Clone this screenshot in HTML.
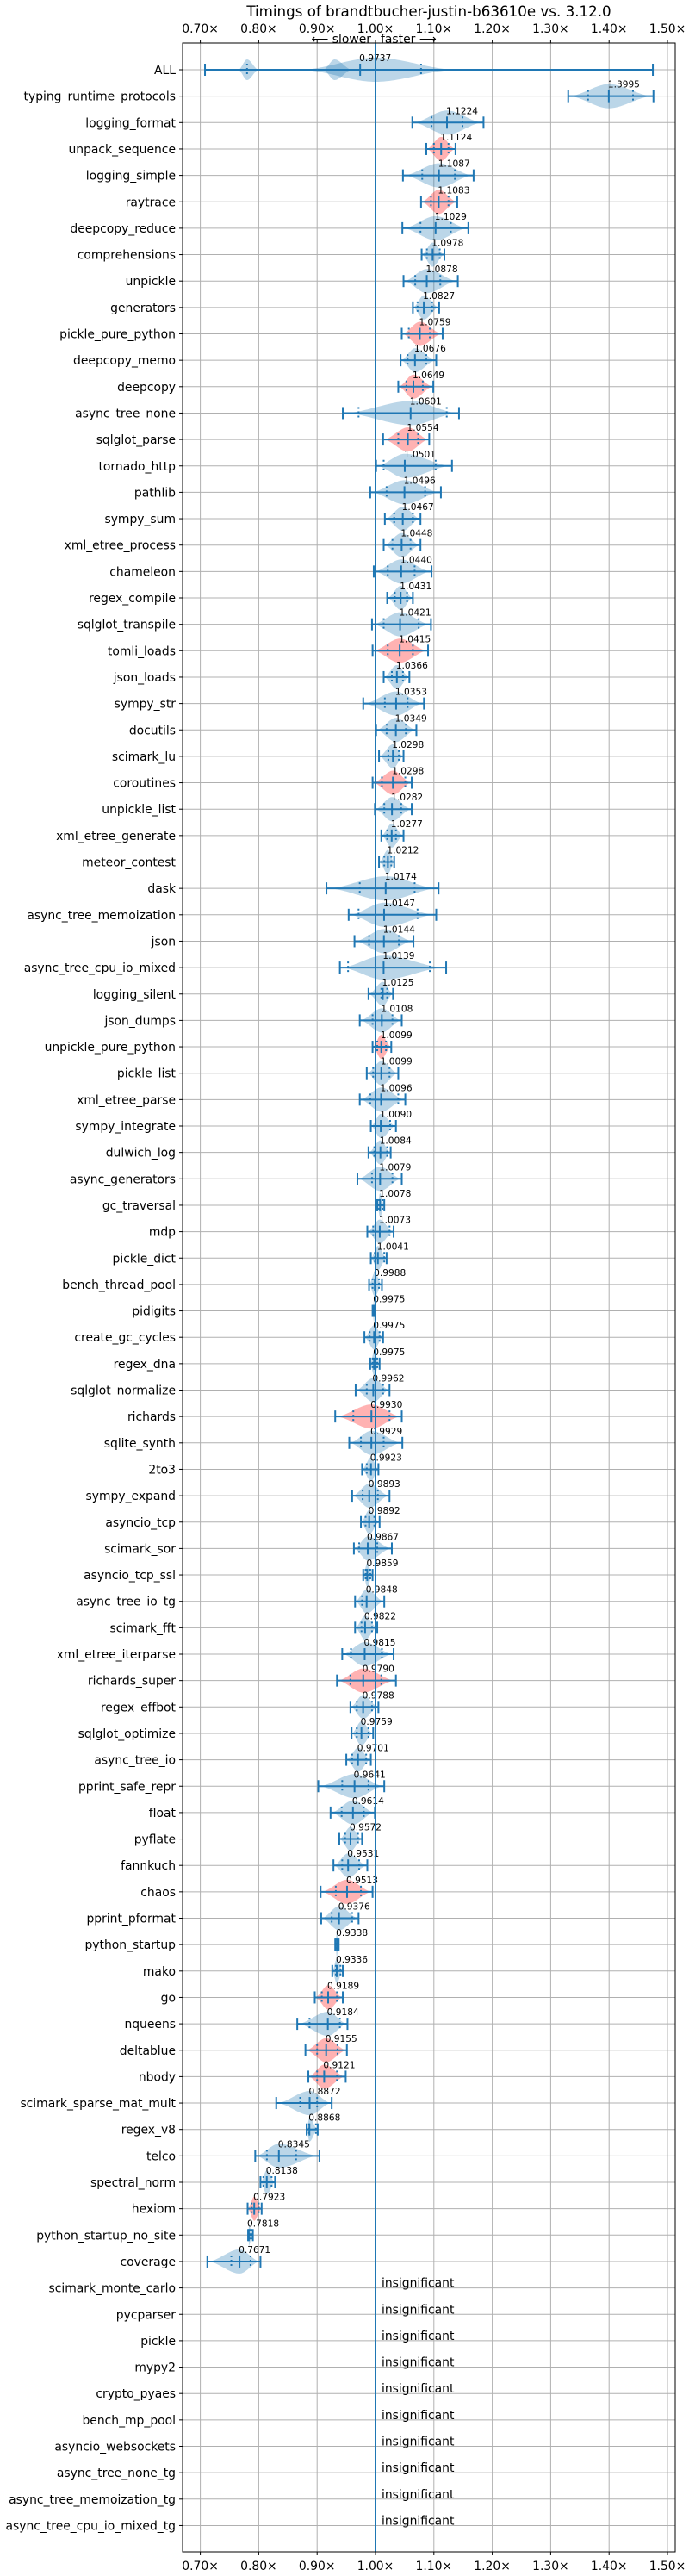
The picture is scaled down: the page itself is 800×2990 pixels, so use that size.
<!DOCTYPE html>
<html><head><meta charset="utf-8"><title>Timings</title>
<style>
html,body{margin:0;padding:0;background:#fff;}
svg{display:block;font-family:"DejaVu Sans","Liberation Sans",sans-serif;}
</style></head>
<body>
<svg id="chart" width="800" height="2990" viewBox="0 0 800 2990" xmlns="http://www.w3.org/2000/svg">
<text x="498" y="19" font-size="16.7" text-anchor="middle">Timings of brandtbucher-justin-b63610e vs. 3.12.0</text>
<text x="431" y="50" font-size="13.9" text-anchor="end">⟵ slower</text>
<text x="442" y="50" font-size="13.9">faster ⟶</text>
<g id="grid"></g>
<g id="marks"></g>
<g id="axes"></g>
</svg>
<script>
const names = ["ALL","typing_runtime_protocols","logging_format","unpack_sequence","logging_simple","raytrace","deepcopy_reduce","comprehensions","unpickle","generators","pickle_pure_python","deepcopy_memo","deepcopy","async_tree_none","sqlglot_parse","tornado_http","pathlib","sympy_sum","xml_etree_process","chameleon","regex_compile","sqlglot_transpile","tomli_loads","json_loads","sympy_str","docutils","scimark_lu","coroutines","unpickle_list","xml_etree_generate","meteor_contest","dask","async_tree_memoization","json","async_tree_cpu_io_mixed","logging_silent","json_dumps","unpickle_pure_python","pickle_list","xml_etree_parse","sympy_integrate","dulwich_log","async_generators","gc_traversal","mdp","pickle_dict","bench_thread_pool","pidigits","create_gc_cycles","regex_dna","sqlglot_normalize","richards","sqlite_synth","2to3","sympy_expand","asyncio_tcp","scimark_sor","asyncio_tcp_ssl","async_tree_io_tg","scimark_fft","xml_etree_iterparse","richards_super","regex_effbot","sqlglot_optimize","async_tree_io","pprint_safe_repr","float","pyflate","fannkuch","chaos","pprint_pformat","python_startup","mako","go","nqueens","deltablue","nbody","scimark_sparse_mat_mult","regex_v8","telco","spectral_norm","hexiom","python_startup_no_site","coverage","scimark_monte_carlo","pycparser","pickle","mypy2","crypto_pyaes","bench_mp_pool","asyncio_websockets","async_tree_none_tg","async_tree_memoization_tg","async_tree_cpu_io_mixed_tg"];
const centers = [0.9737,1.3995,1.1224,1.1124,1.1087,1.1083,1.1029,1.0978,1.0878,1.0827,1.0759,1.0676,1.0649,1.0601,1.0554,1.0501,1.0496,1.0467,1.0448,1.0440,1.0431,1.0421,1.0415,1.0366,1.0353,1.0349,1.0298,1.0298,1.0282,1.0277,1.0212,1.0174,1.0147,1.0144,1.0139,1.0125,1.0108,1.0099,1.0099,1.0096,1.0090,1.0084,1.0079,1.0078,1.0073,1.0041,0.9988,0.9975,0.9975,0.9975,0.9962,0.9930,0.9929,0.9923,0.9893,0.9892,0.9867,0.9859,0.9848,0.9822,0.9815,0.9790,0.9788,0.9759,0.9701,0.9641,0.9614,0.9572,0.9531,0.9513,0.9376,0.9338,0.9336,0.9189,0.9184,0.9155,0.9121,0.8872,0.8868,0.8345,0.8138,0.7923,0.7818,0.7671,null,null,null,null,null,null,null,null,null,null];
const mins = [0.708,1.330,1.063,1.087,1.047,1.078,1.046,1.079,1.048,1.064,1.045,1.043,1.039,0.944,1.013,1.001,0.991,1.016,1.014,0.997,1.020,0.994,0.995,1.014,0.979,1.001,1.006,0.995,0.999,1.010,1.006,0.916,0.954,0.964,0.939,0.988,0.973,0.995,0.985,0.973,0.992,0.988,0.969,1.003,0.986,0.992,0.989,0.995,0.981,0.991,0.966,0.931,0.955,0.977,0.960,0.975,0.963,0.979,0.965,0.965,0.943,0.934,0.957,0.959,0.950,0.902,0.923,0.938,0.928,0.906,0.907,0.931,0.926,0.896,0.866,0.880,0.885,0.830,0.882,0.794,0.803,0.781,0.783,0.712];
const maxs = [1.475,1.476,1.185,1.137,1.168,1.140,1.159,1.118,1.141,1.109,1.115,1.104,1.099,1.143,1.092,1.131,1.112,1.077,1.077,1.096,1.064,1.095,1.090,1.058,1.083,1.070,1.048,1.062,1.062,1.048,1.032,1.108,1.104,1.065,1.121,1.030,1.045,1.027,1.039,1.051,1.035,1.026,1.045,1.015,1.031,1.019,1.011,0.999,1.013,1.007,1.024,1.045,1.046,1.005,1.024,1.007,1.028,0.995,1.015,1.003,1.031,1.035,1.005,0.996,0.992,1.015,0.999,0.977,0.986,0.995,0.971,0.937,0.944,0.944,0.952,0.951,0.949,0.925,0.901,0.904,0.828,0.805,0.790,0.803];
const q1s = [0.780,1.364,1.096,1.100,1.080,1.095,1.077,1.088,1.068,1.072,1.057,1.055,1.053,0.971,1.039,1.014,1.019,1.032,1.029,1.021,1.033,1.014,1.021,1.028,1.016,1.019,1.022,1.011,1.015,1.020,1.015,0.973,0.971,0.989,0.953,1.010,0.995,1.003,0.996,0.991,1.000,0.998,0.994,1.006,0.996,0.999,0.995,0.996,0.990,0.995,0.985,0.962,0.975,0.985,0.978,0.983,0.972,0.983,0.977,0.976,0.958,0.957,0.968,0.968,0.960,0.943,0.942,0.948,0.943,0.932,0.925,0.932,0.932,0.908,0.887,0.900,0.900,0.871,0.886,0.814,0.808,0.788,0.785,0.753];
const q3s = [1.078,1.441,1.149,1.125,1.136,1.125,1.129,1.110,1.111,1.097,1.093,1.087,1.081,1.122,1.073,1.103,1.085,1.064,1.060,1.067,1.054,1.074,1.064,1.047,1.055,1.052,1.040,1.051,1.044,1.035,1.027,1.067,1.072,1.040,1.093,1.020,1.029,1.018,1.024,1.039,1.025,1.020,1.029,1.012,1.024,1.015,1.006,0.998,1.007,1.003,1.013,1.024,1.014,1.000,1.004,0.998,1.003,0.991,1.000,0.994,1.011,1.010,0.994,0.988,0.984,0.988,0.980,0.970,0.972,0.975,0.960,0.936,0.940,0.934,0.939,0.935,0.934,0.900,0.898,0.864,0.822,0.800,0.788,0.786];
const slowerRows = [3,5,10,12,14,22,27,37,51,61,69,73,75,76,81];
const xTicks = [0.70,0.80,0.90,1.00,1.10,1.20,1.30,1.40,1.50];
const xTickLabels = ["0.70×","0.80×","0.90×","1.00×","1.10×","1.20×","1.30×","1.40×","1.50×"];

const NS = "http://www.w3.org/2000/svg";
const AX_L = 212, AX_R = 784, AX_T = 50, AX_B = 2962;
function x(v){ return 436 + (v - 1) * 678; }
function y(i){ return 81 + i * 30.65; }
function mk(tag, attrs, parent){
  const el = document.createElementNS(NS, tag);
  for (const k in attrs) el.setAttribute(k, attrs[k]);
  parent.appendChild(el);
  return el;
}
const grid = document.getElementById('grid');
const marks = document.getElementById('marks');
const axes = document.getElementById('axes');

// vertical grid + tick labels
xTicks.forEach((t, k) => {
  const gl = mk('line', {x1:x(t), x2:x(t), y1:AX_T, y2:AX_B, stroke:'#b0b0b0', 'stroke-width':1}, grid);
  
  
  [[AX_T, AX_T-4, 38], [AX_B, AX_B+4, 2983]].forEach(p => {
    const tk = mk('line', {x1:x(t), x2:x(t), y1:p[0], y2:p[1], stroke:'#000', 'stroke-width':1}, axes);
    
    
    const tl = mk('text', {x:x(t), y:p[2], 'font-size':13.9, 'text-anchor':'middle'}, axes);
    tl.textContent = xTickLabels[k];
    
    
  });
});
// rows
names.forEach((n, i) => {
  const yy = y(i);
  const hl = mk('line', {x1:AX_L, x2:AX_R, y1:yy, y2:yy, stroke:'#b0b0b0', 'stroke-width':1}, grid);
  
  
  const tk = mk('line', {x1:AX_L-4, x2:AX_L, y1:yy, y2:yy, stroke:'#000', 'stroke-width':1}, axes);
  
  
  const lb = mk('text', {x:AX_L-8, y:yy+5, 'font-size':13.9, 'text-anchor':'end'}, axes);
  lb.textContent = n;
  
  
});

function violinPath(a, m, b, yy, H){
  const pts = [];
  const N = 30;
  const sh = u => { u = Math.max(0, Math.min(1, u)); return 3*u*u - 2*u*u*u; };
  const xs = [];
  for (let k = 0; k <= N; k++) xs.push(a + (m - a) * k / N);
  for (let k = 1; k <= N; k++) xs.push(m + (b - m) * k / N);
  const hs = xs.map(v => v <= m ? H * sh((v - a) / ((m - a) || 1e-9)) : H * sh((b - v) / ((b - m) || 1e-9)));
  let d = '';
  xs.forEach((v, k) => { d += (k ? 'L' : 'M') + x(v).toFixed(1) + ',' + (yy - hs[k]).toFixed(1); });
  for (let k = xs.length - 1; k >= 0; k--) d += 'L' + x(xs[k]).toFixed(1) + ',' + (yy + hs[k]).toFixed(1);
  return d + 'Z';
}

const BLUE = '#1f77b4';
names.forEach((n, i) => {
  const yy = y(i);
  const c = centers[i];
  if (c === null || c === undefined) {
    const mkr = mk('line', {x1:x(1), x2:x(1), y1:yy-7, y2:yy+7, stroke:'#a8c8e3', 'stroke-width':2}, marks);
    
    
    const t = mk('text', {x:x(1)+7, y:yy-1, 'font-size':13.9}, marks);
    t.textContent = 'insignificant';
    
    
    return;
  }
  const fill = slowerRows.includes(i) ? 'rgba(255,0,0,0.3)' : 'rgba(31,119,180,0.3)';
  const a = mins[i], b = maxs[i];
  if (i === 0) {
    const v1 = mk('path', {d: violinPath(a + 0.057, 0.78, 0.80, yy, 12), fill: fill}, marks);
    
    
    const v2 = mk('path', {d: violinPath(0.87, 1.0, 1.14, yy, 14), fill: fill}, marks);
    
    
    const v3 = mk('path', {d: violinPath(0.91, 0.93, 0.96, yy, 12), fill: fill}, marks);
    
    
  } else {
    const vp = mk('path', {d: violinPath(a, c, b, yy, 14), fill: fill}, marks);
    
    
  }
  const wl = mk('line', {x1:x(a), x2:x(b), y1:yy, y2:yy, stroke:BLUE, 'stroke-width':2}, marks);
  
  
  [a, b].forEach(v => {
    const cp = mk('line', {x1:x(v), x2:x(v), y1:yy-7, y2:yy+7, stroke:BLUE, 'stroke-width':2}, marks);
    
    
  });
  const md = mk('line', {x1:x(c), x2:x(c), y1:yy-7, y2:yy+7, stroke:BLUE, 'stroke-width':2}, marks);
  
  
  [q1s[i], q3s[i]].forEach(v => {
    const q = mk('line', {x1:x(v), x2:x(v), y1:yy-7, y2:yy+7, stroke:BLUE, 'stroke-width':2, 'stroke-dasharray':'2,3'}, marks);
    
    
  });
  const vl = mk('text', {x:x(c)-1, y:yy-10, 'font-size':10.6}, marks);
  vl.textContent = c.toFixed(4);
  
  
});

// 1.00 reference line
const ref = mk('line', {x1:x(1), x2:x(1), y1:AX_T, y2:AX_B, stroke:BLUE, 'stroke-width':2}, marks);


// frame
const fr = mk('rect', {x:AX_L, y:AX_T, width:AX_R-AX_L, height:AX_B-AX_T, fill:'none', stroke:'#000', 'stroke-width':1}, axes);


</script>
</body></html>
